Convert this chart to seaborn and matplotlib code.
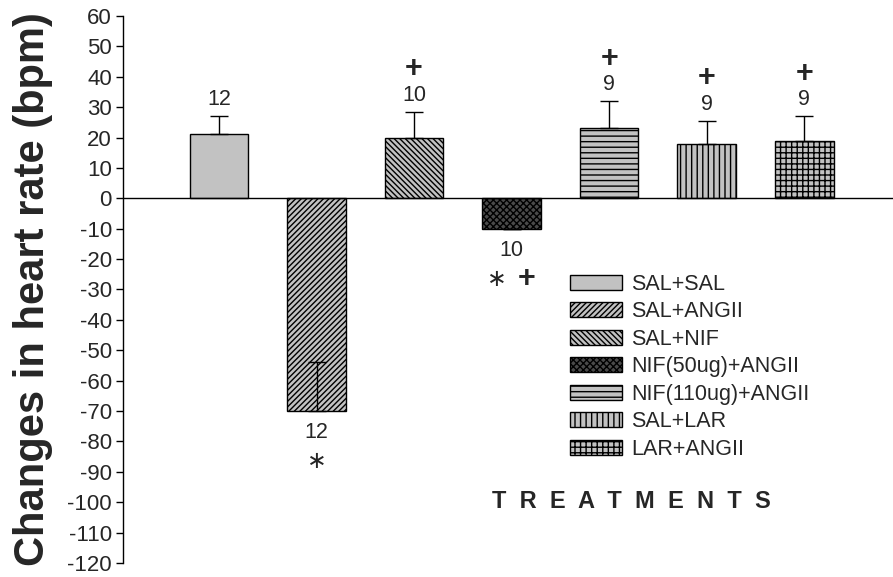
import numpy as np
import pandas as pd
import seaborn as sns
import matplotlib
matplotlib.use("Agg")
import matplotlib.pyplot as plt
from matplotlib.patches import Patch

# Treatment groups, mean change in heart rate (bpm), SEM and group size
treatments = ["SAL+SAL", "SAL+ANGII", "SAL+NIF", "NIF(50ug)+ANGII",
              "NIF(110ug)+ANGII", "SAL+LAR", "LAR+ANGII"]
hr_change = [21, -70, 20, -10, 23, 18, 19]
hr_sem = [6, 16, 8.5, 0, 9, 7.5, 8]
n_animals = [12, 12, 10, 10, 9, 9, 9]
significance = [[], ["\u2217"], ["+"], ["\u2217", "+"], ["+"], ["+"], ["+"]]
y_ticks = list(range(-120, 61, 10))

hatches = ["", "//////", "\\\\\\\\\\\\", "xxxxx", "---", "|||", "+++"]
bar_gray = "#c2c2c2"
dark_fill = "#4a4a4a"
fills = [bar_gray, bar_gray, bar_gray, dark_fill, bar_gray, bar_gray, bar_gray]

sns.set_theme(style="white")
plt.rcParams["font.family"] = ["Liberation Sans", "DejaVu Sans"]
plt.rcParams["hatch.linewidth"] = 1.0
plt.rcParams["hatch.color"] = "black"

df = pd.DataFrame({"treatment": treatments, "change": hr_change})

fig = plt.figure(figsize=(8.93, 5.77), dpi=100)
ax = fig.add_axes([0.1377, 0.0243, 0.8623, 0.948])

sns.barplot(data=df, x="treatment", y="change", hue="treatment",
            palette=fills, width=0.6,
            edgecolor="black", linewidth=1.0, legend=False, ax=ax)

bars = ax.patches[:len(treatments)]
for bar, h in zip(bars, hatches):
    bar.set_hatch(h)

xpos = np.arange(len(treatments))
vals = np.array(hr_change, dtype=float)
sems = np.array(hr_sem, dtype=float)
ax.errorbar(xpos, vals, yerr=[np.zeros_like(sems), sems], fmt="none",
            ecolor="black", elinewidth=1.0, capsize=6.4, capthick=1.0, zorder=3)

# group sizes and significance marks
sym_gap = 0.3  # horizontal spacing between paired marks, in bar units
for x, v, s, n, sig in zip(xpos, vals, sems, n_animals, significance):
    if v >= 0:
        top = v + s
        ax.text(x, top + 5.4, str(n), ha="center", va="center", fontsize=15.5)
        sig_y = top + 14.0
    else:
        ax.text(x, v - 7.2, str(n), ha="center", va="center", fontsize=15.5)
        sig_y = v - 16.5
    offsets = (np.arange(len(sig)) - (len(sig) - 1) / 2) * sym_gap
    for dx, mark in zip(offsets, sig):
        if mark == "\u2217":
            ax.text(x + dx, sig_y, mark, ha="center", va="center",
                    fontsize=17, family=["DejaVu Sans"])
        else:
            ax.text(x + dx, sig_y, mark, ha="center", va="center",
                    fontsize=22, fontweight="bold")

ax.axhline(0, color="black", lw=1.0, zorder=4)

ax.set_ylim(-120, 60)
ax.set_xlim(-0.985, 6.91)
ax.set_yticks(y_ticks)
ax.set_yticklabels([str(t) for t in y_ticks], fontsize=16)
ax.set_xticks([])
ax.set_xlabel("")
ax.set_ylabel("Changes in heart rate (bpm)", fontsize=30, fontweight="bold",
              labelpad=10)
for side in ["top", "right", "bottom"]:
    ax.spines[side].set_visible(False)
ax.spines["left"].set_color("black")
ax.spines["left"].set_linewidth(1.0)
ax.tick_params(axis="y", direction="out", length=5, width=1.0, color="black",
               left=True, pad=3)

ax.text(0.66, 0.1115, "T  R  E  A  T  M  E  N  T  S", transform=ax.transAxes,
        ha="center", va="center", fontsize=17, fontweight="bold")

handles = [Patch(facecolor=f, edgecolor="black", hatch=h, linewidth=1.0)
           for f, h in zip(fills, hatches)]
fig.legend(handles, treatments, loc="upper left",
           bbox_to_anchor=(570 / 893, 1 - 274 / 577), frameon=False,
           fontsize=15.5, handlelength=2.4, handleheight=0.7,
           handletextpad=0.45, labelspacing=0.3, borderpad=0, borderaxespad=0)

fig.savefig("out.png", dpi=100, facecolor="white")
